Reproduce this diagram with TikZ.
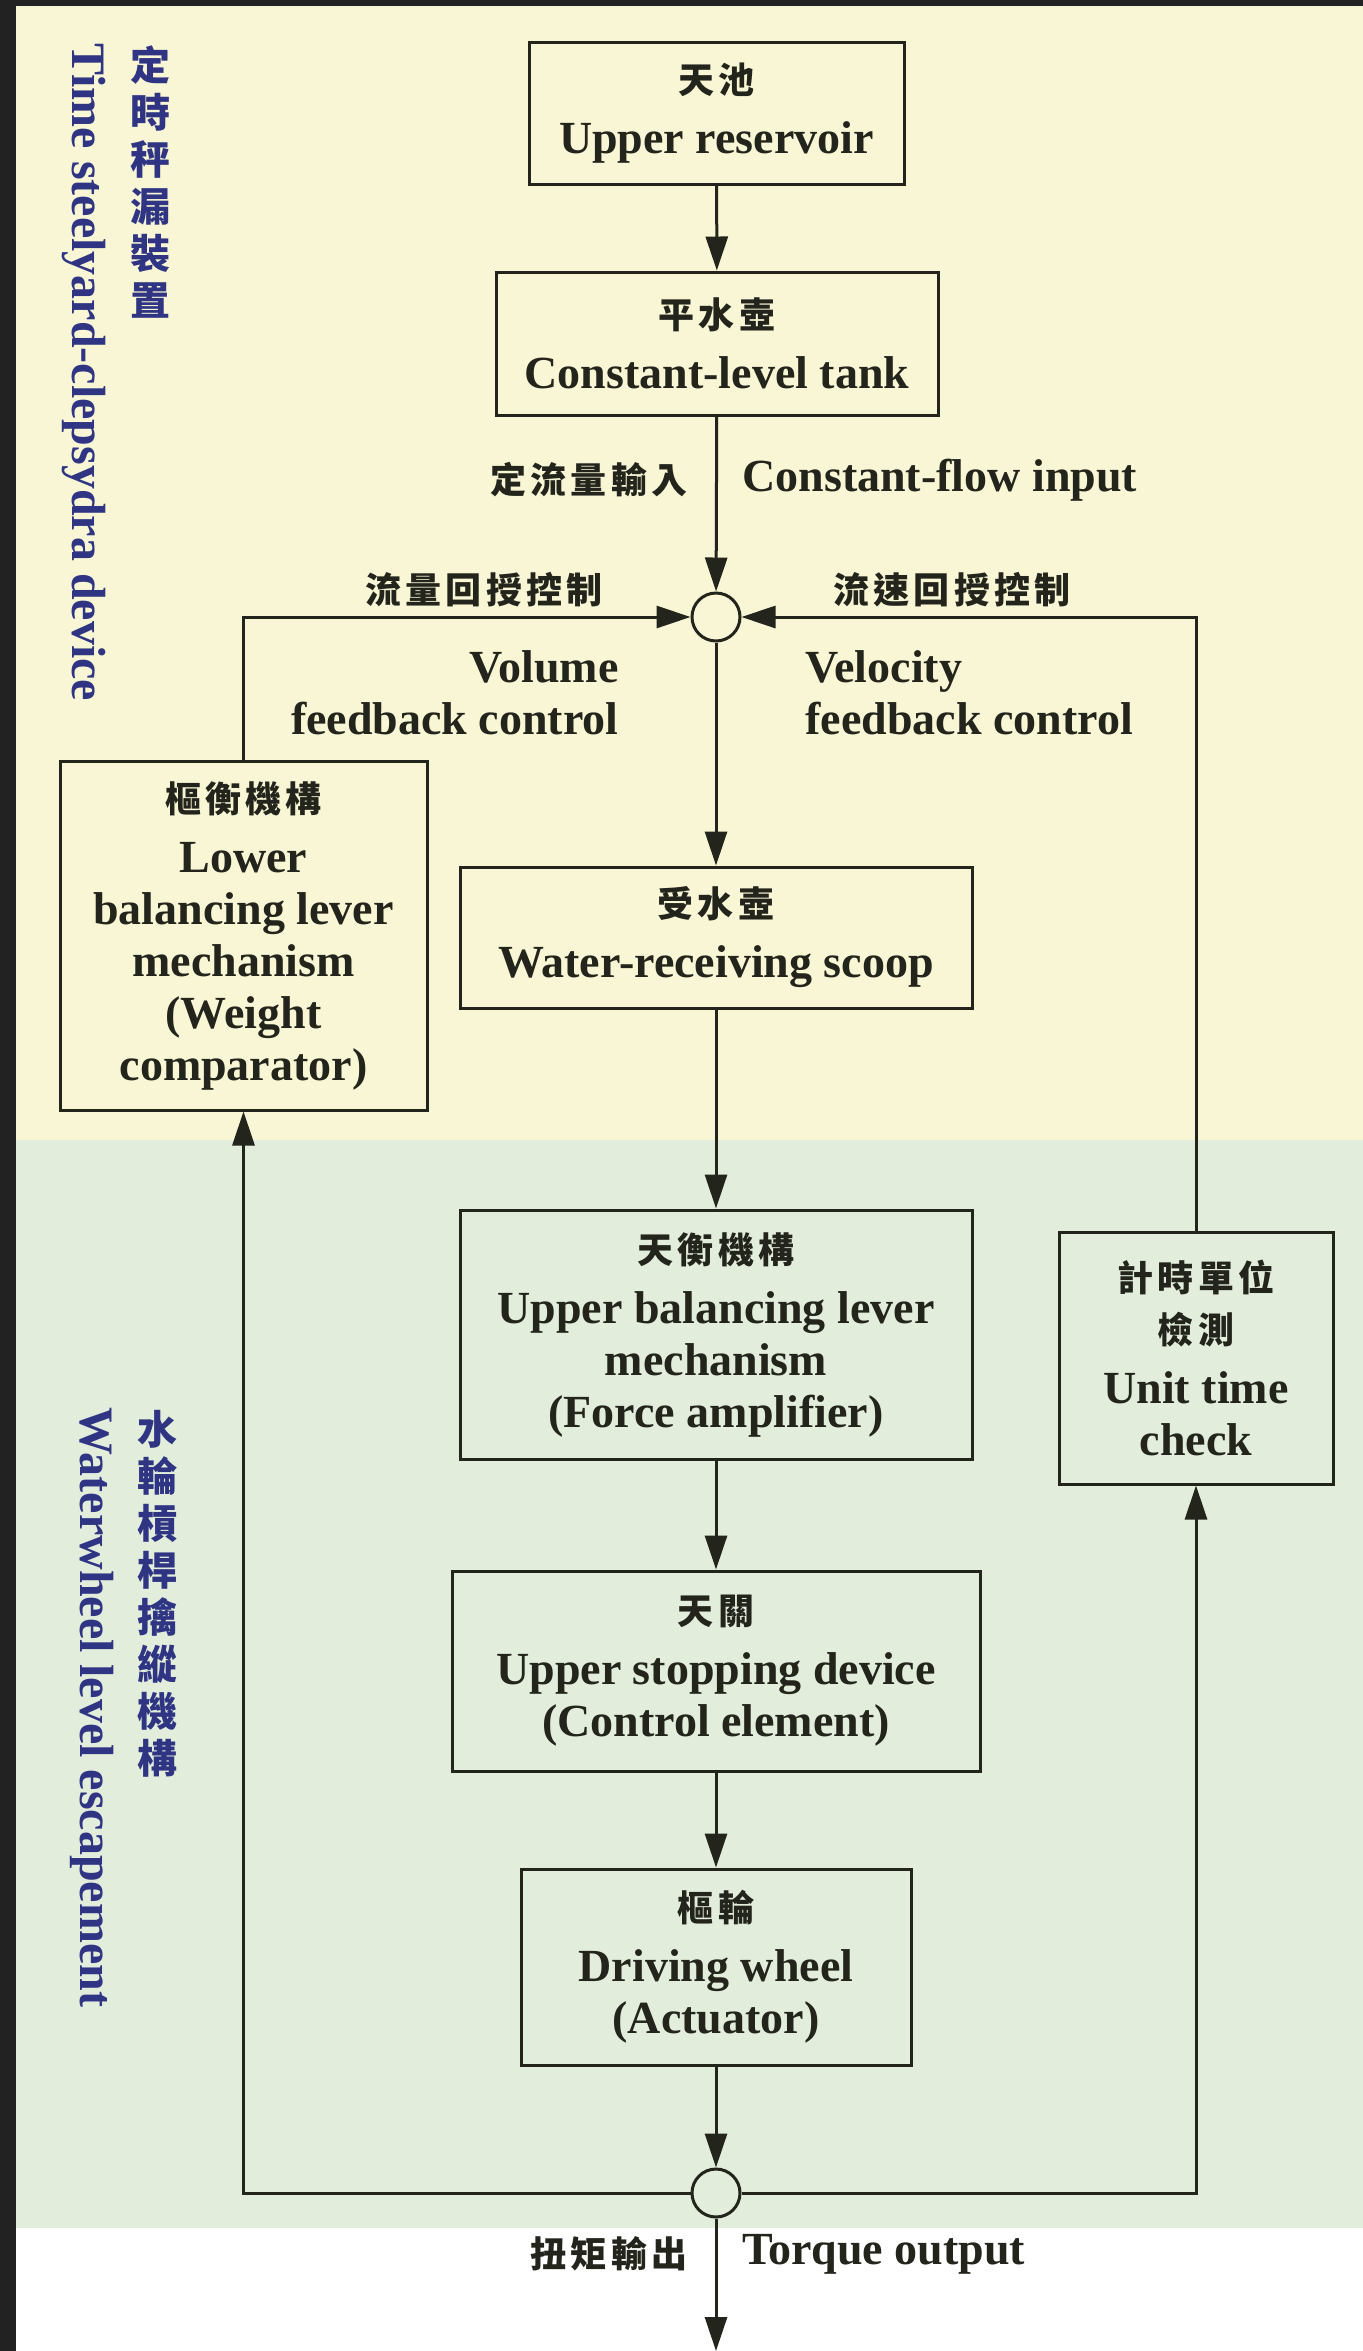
\documentclass[tikz,border=0pt]{standalone}
\usepackage{fontspec}
\usepackage{xcolor}
\setmainfont{Liberation Serif}
\newfontfamily\zhfont[LetterSpace=12]{Noto Sans CJK TC}
\newfontfamily\zhside{Noto Sans CJK TC}
\usetikzlibrary{arrows.meta}

\definecolor{paleyellow}{HTML}{F8F6D4}
\definecolor{palegreen}{HTML}{E2EDDC}
\definecolor{navyink}{HTML}{2F3583}
\definecolor{darkframe}{HTML}{222222}
\definecolor{ink}{HTML}{23251C}

\newcommand{\zh}[1]{{\zhfont\fontsize{18}{26}\selectfont #1}}

\begin{document}
\begin{tikzpicture}[x=0.5pt, y=-0.5pt,
  blk/.style={draw=ink, line width=1.5pt, align=center, inner sep=0pt, text=ink,
    font=\fontsize{23}{26}\selectfont\bfseries},
  sum/.style={draw=ink, line width=1.5pt, circle, minimum size=24pt, inner sep=0pt},
  lbl/.style={text=ink, font=\fontsize{23}{26}\selectfont\bfseries, inner sep=0pt},
  side/.style={text=navyink, font=\fontsize{24}{28}\selectfont\bfseries, inner sep=0pt},
  sidezh/.style={side, align=center, font=\zhside\fontsize{20}{23.5}\selectfont\bfseries},
  wire/.style={->, line width=1.5pt, draw=ink},
  >={Triangle[length=17pt, width=11pt]}]

% background bands
\useasboundingbox (0,0) rectangle (1363,2351);
\fill[white] (0,0) rectangle (1363,2351);
\fill[darkframe] (0,0) rectangle (16,2351);
\fill[darkframe] (16,0) rectangle (1363,6);
\fill[paleyellow] (16,6) rectangle (1363,1140);
\fill[palegreen] (16,1140) rectangle (1363,2228);

% side titles
\node[side, rotate=-90, anchor=west] at (84,43) (topen) {Time steelyard-clepsydra device};
\node[sidezh, anchor=north] at (150,45) (topzh) {定\\時\\秤\\漏\\裝\\置};
\node[side, rotate=-90, anchor=west] at (92,1407) (boten) {Waterwheel level escapement};
\node[sidezh, anchor=north] at (157,1410) (botzh) {水\\輪\\槓\\桿\\擒\\縱\\機\\構};

% blocks
\node[blk, minimum width=187.5pt, minimum height=71pt] at (716.5,113) (res) {\zh{天池}\\[4pt]Upper reservoir};
\node[blk, minimum width=221pt, minimum height=71.5pt] at (717,343.5) (tank) {\zh{平水壺}\\[4pt]Constant-level tank};
\node[sum] at (716,617) (sumin) {};
\node[blk, minimum width=183.5pt, minimum height=174.5pt] at (243.5,935.5) (lower) {\zh{樞衡機構}\\[4pt]Lower\\balancing lever\\mechanism\\(Weight\\comparator)};
\node[blk, minimum width=256pt, minimum height=70.5pt] at (716,937.5) (scoop) {\zh{受水壺}\\[4pt]Water-receiving scoop};
\node[blk, minimum width=256pt, minimum height=124.5pt] at (716,1334.5) (upper) {\zh{天衡機構}\\[4pt]Upper balancing lever\\mechanism\\(Force amplifier)};
\node[blk, minimum width=264pt, minimum height=100pt] at (716,1671) (stop) {\zh{天關}\\[4pt]Upper stopping device\\(Control element)};
\node[blk, minimum width=195pt, minimum height=98pt] at (716,1967) (wheel) {\zh{樞輪}\\[4pt]Driving wheel\\(Actuator)};
\node[blk, minimum width=137pt, minimum height=126pt] at (1196,1358) (unit) {\zh{計時單位}\\\zh{檢測}\\[4pt]Unit time\\check};
\node[sum] at (716,2193) (sumout) {};
\coordinate (out) at (716,2351);

% labels
\node[lbl, anchor=east] at (688,480) (inzh) {\zh{定流量輸入}};
\node[lbl, anchor=west] at (742,480) (inen) {Constant-flow input};
\node[lbl] at (484,590) (volzh) {\zh{流量回授控制}};
\node[lbl] at (952,590) (velzh) {\zh{流速回授控制}};
\node[lbl, anchor=east, align=right] at (619,693) (volen) {Volume\\feedback control};
\node[lbl, anchor=west, align=left] at (805,693) (velen) {Velocity\\feedback control};
\node[lbl, anchor=east] at (688,2254) (outzh) {\zh{扭矩輸出}};
\node[lbl, anchor=west] at (742,2254) (outen) {Torque output};

% connectors
\draw[wire] (res) -- (tank);
\draw[wire] (tank) -- (sumin);
\draw[wire] (lower.north) |- (sumin);
\draw[wire] (unit.north) |- (sumin);
\draw[wire] (sumin) -- (scoop);
\draw[wire] (scoop) -- (upper);
\draw[wire] (upper) -- (stop);
\draw[wire] (stop) -- (wheel);
\draw[wire] (wheel) -- (sumout);
\draw[wire] (sumout) -| (lower.south);
\draw[wire] (sumout) -| (unit.south);
\draw[wire] (sumout) -- (out);

\end{tikzpicture}
\end{document}
